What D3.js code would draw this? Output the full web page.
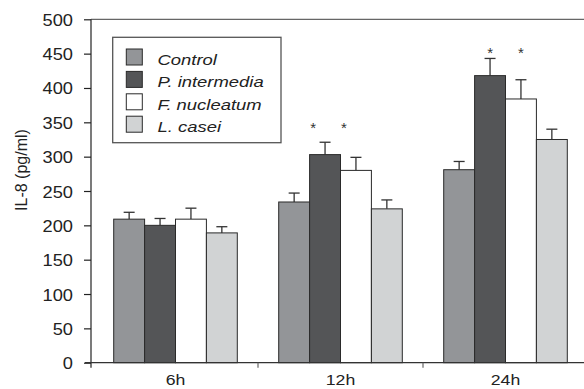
<!DOCTYPE html>
<html>
<head>
<meta charset="utf-8">
<script src="https://cdn.jsdelivr.net/npm/d3@7"></script>
<style>
  body { margin: 0; background: #fff; }
  svg text { font-family: "Liberation Sans", Arial, sans-serif; fill: #222; }
</style>
</head>
<body>
<div id="chart"></div>
<script>
// data
var timepoints = ["6h", "12h", "24h"];
var groups = ["Control", "P. intermedia", "F. nucleatum", "L. casei"];
var control = [209, 234, 281];
var intermedia = [200, 303, 418];
var nucleatum = [209, 280, 384];
var casei = [189, 224, 325];
var controlErr = [10, 13, 12];
var intermediaErr = [10, 18, 25];
var nucleatumErr = [16, 19, 28];
var caseiErr = [9, 13, 15];
var starLevel = [null, 346, 455];   // where the * marks sit (pg/ml)
var yTicks = [0, 50, 100, 150, 200, 250, 300, 350, 400, 450, 500];

var colors = ["#939598", "#545557", "#ffffff", "#d1d3d4"];
var values = [control, intermedia, nucleatum, casei];
var errors = [controlErr, intermediaErr, nucleatumErr, caseiErr];

var svgWidth = 584, svgHeight = 389;
var stretch = 1.14;   // the figure text is a little wide

var svg = d3.select("#chart").append("svg")
  .attr("width", svgWidth)
  .attr("height", svgHeight);

var x0 = d3.scaleBand()
  .domain(timepoints)
  .range([93, 588])
  .padding(0);

var x1 = d3.scaleBand()
  .domain(groups)
  .range([0, x0.bandwidth()])
  .paddingInner(0)
  .paddingOuter(0.67);

var y = d3.scaleLinear()
  .domain([0, 500])
  .range([362.7, 19.3]);

var axisX = 91;

// flat list of bars
var bars = [];
timepoints.forEach(function(t, i) {
  groups.forEach(function(g, j) {
    bars.push({t: t, g: g, v: values[j][i], e: errors[j][i], c: colors[j]});
  });
});

// top frame line
svg.append("line")
  .attr("x1", axisX).attr("x2", svgWidth)
  .attr("y1", y(500)).attr("y2", y(500))
  .attr("stroke", "#666").attr("stroke-width", 1.2);

// error bars (drawn under the bars)
var eb = svg.append("g").attr("stroke", "#333").attr("stroke-width", 1.3);
bars.forEach(function(d) {
  var cx = x0(d.t) + x1(d.g) + x1.bandwidth() / 2;
  eb.append("line")
    .attr("x1", cx).attr("x2", cx)
    .attr("y1", y(d.v)).attr("y2", y(d.v + d.e));
  eb.append("line")
    .attr("x1", cx - 5.5).attr("x2", cx + 5.5)
    .attr("y1", y(d.v + d.e)).attr("y2", y(d.v + d.e));
});

svg.append("g").selectAll("rect")
  .data(bars)
  .enter()
  .append("rect")
  .attr("x", d => x0(d.t) + x1(d.g))
  .attr("y", d => y(d.v))
  .attr("width", x1.bandwidth())
  .attr("height", d => y(0) - y(d.v))
  .attr("fill", d => d.c)
  .attr("stroke", "#2a2a2a")
  .attr("stroke-width", 1);

// significance stars
timepoints.forEach(function(t, i) {
  if (starLevel[i] == null) return;
  var shift = i == 1 ? -12 : 0;
  ["P. intermedia", "F. nucleatum"].forEach(function(g) {
    svg.append("text")
      .attr("x", x0(t) + x1(g) + x1.bandwidth() / 2 + shift)
      .attr("y", y(starLevel[i]) + 8)
      .attr("text-anchor", "middle")
      .style("font-size", "15px")
      .style("fill", "#333")
      .text("*");
  });
});

// y axis
var leftAxis = d3.axisLeft(y).tickValues(yTicks).tickSize(7).tickPadding(11);
var yAxis = svg.append("g")
  .attr("transform", `translate(${axisX},0)`)
  .call(leftAxis);
yAxis.select(".domain").attr("d", `M0,${y(500)}V${y(0) + 5}`).attr("stroke", "#222").attr("stroke-width", 1.2);
yAxis.selectAll(".tick line").attr("stroke", "#222").attr("stroke-width", 1.2);
yAxis.selectAll(".tick text").each(function() {
  d3.select(this).attr("x", null).attr("dy", null)
    .attr("transform", `translate(-18,6) scale(${stretch},1)`)
    .style("font-size", "16px").style("fill", "#222");
});

// x axis line and separator ticks
svg.append("line")
  .attr("x1", axisX - 6).attr("x2", svgWidth)
  .attr("y1", y(0)).attr("y2", y(0))
  .attr("stroke", "#333").attr("stroke-width", 1.2);
timepoints.slice(1).forEach(function(t) {
  svg.append("line")
    .attr("x1", x0(t)).attr("x2", x0(t))
    .attr("y1", y(0)).attr("y2", y(0) + 5)
    .attr("stroke", "#666").attr("stroke-width", 1.2);
});
timepoints.forEach(function(t) {
  svg.append("text")
    .attr("transform", `translate(${x0(t) + x0.bandwidth() / 2},385) scale(${stretch},1)`)
    .attr("text-anchor", "middle")
    .style("font-size", "15.5px")
    .text(t);
});

// y axis title
svg.append("text")
  .attr("transform", "translate(26.5,170) rotate(-90)")
  .attr("text-anchor", "middle")
  .style("font-size", "16px")
  .text("IL-8 (pg/ml)");

// legend
var legend = svg.append("g");
legend.append("rect")
  .attr("x", 112.7).attr("y", 37.3)
  .attr("width", 168.3).attr("height", 105.4)
  .attr("fill", "#fff")
  .attr("stroke", "#555").attr("stroke-width", 1.3);
groups.forEach(function(g, j) {
  var ry = 49 + j * 22.4;
  legend.append("rect")
    .attr("x", 126.3).attr("y", ry)
    .attr("width", 16).attr("height", 16)
    .attr("fill", colors[j])
    .attr("stroke", "#2a2a2a").attr("stroke-width", 1);
  legend.append("text")
    .attr("transform", `translate(157.5,${ry + 16}) scale(1.19,1)`)
    .style("font-size", "15.5px")
    .style("font-style", "italic")
    .text(g);
});
</script>
</body>
</html>
